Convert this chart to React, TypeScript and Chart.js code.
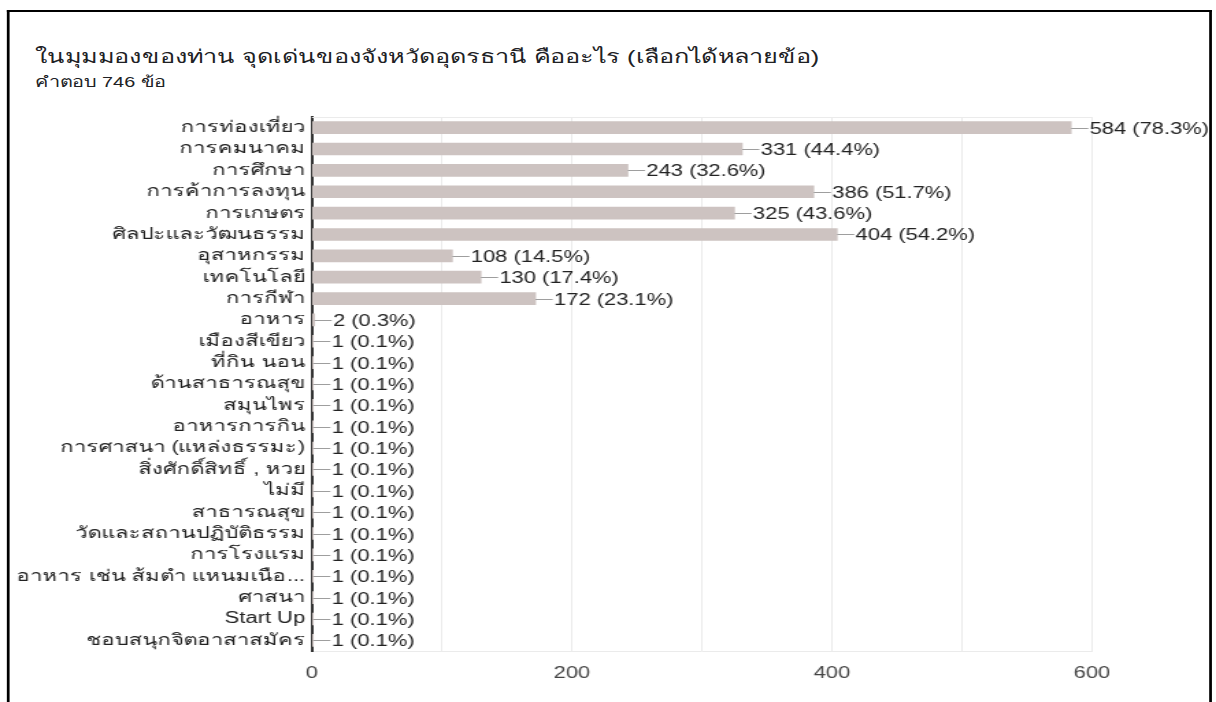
import React, { useEffect, useRef } from "react";
import { Chart, registerables } from "chart.js";

Chart.register(...registerables);

const TITLE = "ในมุมมองของท่าน จุดเด่นของจังหวัดอุดรธานี คืออะไร (เลือกได้หลายข้อ)";
const SUBTITLE = "คำตอบ 746 ข้อ";

const categories = [
  "การท่องเที่ยว",
  "การคมนาคม",
  "การศึกษา",
  "การค้าการลงทุน",
  "การเกษตร",
  "ศิลปะและวัฒนธรรม",
  "อุสาหกรรม",
  "เทคโนโลยี",
  "การกีฬา",
  "อาหาร",
  "เมืองสีเขียว",
  "ที่กิน นอน",
  "ด้านสาธารณสุข",
  "สมุนไพร",
  "อาหารการกิน",
  "การศาสนา (แหล่งธรรมะ)",
  "สิ่งศักดิ์สิทธิ์ , หวย",
  "ไม่มี",
  "สาธารณสุข",
  "วัดและสถานปฏิบัติธรรม",
  "การโรงแรม",
  "อาหาร เช่น ส้มตำ แหนมเนือ...",
  "ศาสนา",
  "Start Up",
  "ชอบสนุกจิตอาสาสมัคร",
];

const counts = [584, 331, 243, 386, 325, 404, 108, 130, 172, 2, 1, 1, 1, 1, 1, 1, 1, 1, 1, 1, 1, 1, 1, 1, 1];

const percents = [
  "78.3%", "44.4%", "32.6%", "51.7%", "43.6%", "54.2%", "14.5%", "17.4%", "23.1%", "0.3%",
  "0.1%", "0.1%", "0.1%", "0.1%", "0.1%", "0.1%", "0.1%", "0.1%", "0.1%", "0.1%",
  "0.1%", "0.1%", "0.1%", "0.1%", "0.1%",
];

const xTickLabels = [0, 200, 400, 600];

// horizontal stretch of the reference rendering
const STRETCH = 1.3694;
const W = 888;
const H = 702;
const FONT = "Arial, 'Liberation Sans', sans-serif";

const valueLabels = {
  id: "valueLabels",
  afterDatasetsDraw(chart: any) {
    const ctx = chart.ctx;
    const meta = chart.getDatasetMeta(0);
    ctx.save();
    ctx.font = `16px ${FONT}`;
    ctx.textBaseline = "middle";
    ctx.textAlign = "left";
    meta.data.forEach((bar: any, i: number) => {
      const x = bar.x;
      const y = Math.round(bar.y) + 0.5;
      ctx.strokeStyle = "#9e9e9e";
      ctx.lineWidth = 1;
      ctx.beginPath();
      ctx.moveTo(x, y);
      ctx.lineTo(x + 12.5, y);
      ctx.stroke();
      ctx.fillStyle = "#222222";
      ctx.fillText(`${counts[i]} (${percents[i]})`, x + 13.5, y + 1);
    });
    ctx.restore();
  },
};

const topLine = {
  id: "topLine",
  beforeDatasetsDraw(chart: any) {
    const { ctx, chartArea } = chart;
    ctx.save();
    ctx.strokeStyle = "#ebebeb";
    ctx.lineWidth = 1;
    ctx.beginPath();
    ctx.moveTo(chartArea.left, chartArea.top + 0.5);
    ctx.lineTo(chartArea.right, chartArea.top + 0.5);
    ctx.stroke();
    ctx.restore();
  },
};

export default function App() {
  const canvasRef = useRef<HTMLCanvasElement | null>(null);

  useEffect(() => {
    if (!canvasRef.current) return;
    const chart = new Chart(canvasRef.current, {
      type: "bar",
      data: {
        labels: categories,
        datasets: [
          {
            data: counts,
            backgroundColor: "#cdc3c1",
            borderWidth: 0,
            barThickness: 12,
          },
        ],
      },
      options: {
        indexAxis: "y",
        animation: false,
        responsive: true,
        maintainAspectRatio: false,
        devicePixelRatio: 1,
        layout: { padding: { left: 0, right: 90.6, top: 117, bottom: 0 } },
        plugins: {
          legend: { display: false },
          tooltip: { enabled: false },
          title: { display: false },
        },
        scales: {
          x: {
            type: "linear",
            min: 0,
            max: 600,
            afterFit(scale: any) {
              scale.height = 51;
            },
            ticks: {
              stepSize: 100,
              autoSkip: false,
              maxRotation: 0,
              padding: 13,
              color: "#444444",
              font: { family: FONT, size: 16 },
              callback: (v: any) => (xTickLabels.includes(Number(v)) ? String(v) : ""),
            },
            grid: { color: "#ebebeb", drawTicks: false, lineWidth: 1 },
            border: { display: true, color: "#ebebeb", width: 1 },
          },
          y: {
            afterFit(scale: any) {
              scale.width = 227.8;
            },
            ticks: {
              autoSkip: false,
              padding: 5,
              color: "#222222",
              font: { family: FONT, size: 16 },
            },
            grid: { display: false, drawTicks: false },
            border: { display: true, color: "#333333", width: 2 },
          },
        },
      },
      plugins: [topLine, valueLabels],
    });
    return () => chart.destroy();
  }, []);

  return (
    <div
      style={{
        position: "absolute",
        left: 0,
        top: 0,
        width: W,
        height: H,
        overflow: "hidden",
        background: "#ffffff",
        transform: `scaleX(${STRETCH})`,
        transformOrigin: "0 0",
        fontFamily: FONT,
      }}
    >
      <div
        style={{
          position: "absolute",
          left: 5,
          top: 10,
          width: 880,
          height: 720,
          boxSizing: "border-box",
          borderTop: "2px solid #000",
          borderLeft: "2px solid #000",
          borderRight: "2px solid #000",
        }}
      />
      <div
        style={{
          position: "absolute",
          left: 25.5,
          top: 45,
          fontSize: 18.5,
          lineHeight: "24px",
          color: "#202124",
          whiteSpace: "nowrap",
        }}
      >
        {TITLE}
      </div>
      <div
        style={{
          position: "absolute",
          left: 25.5,
          top: 73,
          fontSize: 14.5,
          lineHeight: "18px",
          color: "#202124",
          whiteSpace: "nowrap",
        }}
      >
        {SUBTITLE}
      </div>
      <div style={{ position: "absolute", left: 0, top: 0, width: W, height: H }}>
        <canvas ref={canvasRef} />
      </div>
    </div>
  );
}
